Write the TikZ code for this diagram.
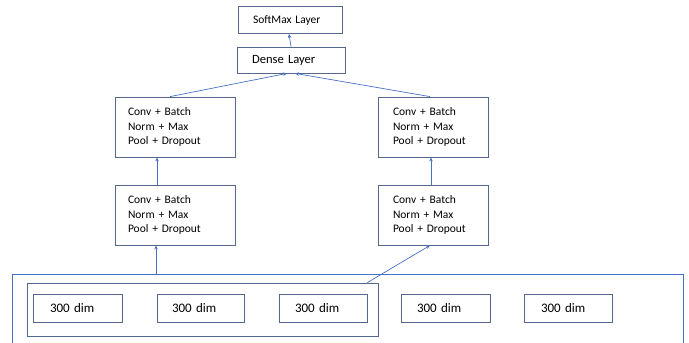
\documentclass[tikz,border=0pt]{standalone}
\usepackage{fontspec}
\setmainfont{Carlito}
\usetikzlibrary{arrows.meta}
\definecolor{boxc}{RGB}{84,104,140}
\definecolor{arrc}{RGB}{68,114,196}
\tikzset{
  box/.style={draw=boxc, line width=0.8pt, inner sep=0pt},
  convbox/.style={box, align=left, font=\fontsize{11.5}{14.5}\selectfont, minimum height=60pt},
  dimbox/.style={box, align=left, inner xsep=16pt, text width=56pt, minimum height=28pt, font=\fontsize{13}{15}\selectfont},
  arr/.style={draw=arrc, line width=0.7pt, -{Stealth[length=4pt,width=3.5pt]}},
  ln/.style={draw=arrc, line width=0.7pt}
}
\begin{document}
\begin{tikzpicture}[x=1pt,y=-1pt]
\useasboundingbox (0,0) rectangle (689,343);
% outer open container
\draw[ln] (12,343) -- (12,274) -- (683,274) -- (683,343);
\coordinate (outtop) at (156,274);
% inner group
\node[box, minimum width=351pt, minimum height=53pt] (grp) at (202.5,309.5) {};
\node[dimbox, inner xsep=17pt, text width=55pt] (d1) at (77.5,308) {300 dim};
\node[dimbox, inner xsep=15pt, text width=57pt] (d2) at (200.5,308) {300 dim};
\node[dimbox] (d3) at (323,308) {300 dim};
\node[dimbox, text width=57pt] (d4) at (445.5,308) {300 dim};
\node[dimbox, inner xsep=17pt, text width=54pt] (d5) at (568,308) {300 dim};
% conv boxes
\node[convbox, text width=94pt, inner xsep=13pt] (cl1) at (175,215) {Conv + Batch\\Norm + Max\\Pool + Dropout};
\node[convbox, text width=94pt, inner xsep=13pt] (cl2) at (175,127) {Conv + Batch\\Norm + Max\\Pool + Dropout};
\node[convbox, text width=80pt, inner xsep=15pt] (cr1) at (433,215) {Conv + Batch\\Norm + Max\\Pool + Dropout};
\node[convbox, text width=80pt, inner xsep=15pt] (cr2) at (433,127) {Conv + Batch\\Norm + Max\\Pool + Dropout};
% top
\node[box, align=left, text width=78pt, inner xsep=15pt, minimum height=26pt, font=\fontsize{12.6}{15}\selectfont] (dense) at (291,60) {Dense Layer};
\node[box, align=left, text width=74pt, inner xsep=15pt, minimum height=27pt, font=\fontsize{11.5}{13}\selectfont] (soft) at (290,20) {SoftMax Layer};
% connectors
\draw[arr] (outtop) -- ([xshift=-19pt]cl1.south);
\draw[arr] ([xshift=-11pt]grp.north east) -- ([xshift=-3pt]cr1.south);
\draw[arr] ([xshift=-18pt]cl1.north) -- ([xshift=-18pt]cl2.south);
\draw[arr] ([xshift=-2pt]cr1.north) -- ([xshift=-2pt]cr2.south);
\draw[arr] ([xshift=-5pt]cl2.north) -- ([xshift=-4pt]dense.south);
\draw[arr] ([xshift=-3pt]cr2.north) -- ([xshift=4pt]dense.south);
\draw[arr] (dense.north) -- ([xshift=-1pt]soft.south);
\end{tikzpicture}
\end{document}
